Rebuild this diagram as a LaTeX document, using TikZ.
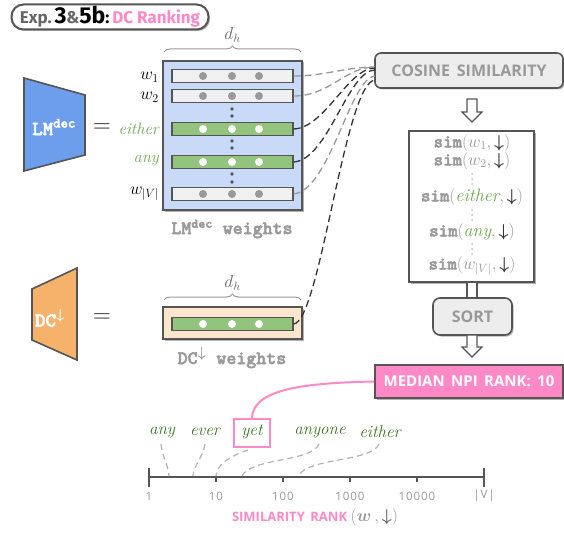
\documentclass[tikz,border=0pt]{standalone}
\usepackage{amsmath,amssymb}
\usepackage{fontspec}
\usetikzlibrary{shadows,decorations.pathreplacing,calc}
\newfontfamily\sansf{Open Sans}
\newfontfamily\titlef{Fira Sans}
\newfontfamily\monof{lmmonolt10-bold.otf}[FakeBold=2.5]
\definecolor{dk}{HTML}{555555}
\definecolor{dkline}{HTML}{333333}
\definecolor{tgray}{HTML}{999999}
\definecolor{mgray}{HTML}{666666}
\definecolor{pinkc}{HTML}{FF88C6}
\definecolor{lblue}{HTML}{C9DAF8}
\definecolor{mblue}{HTML}{6D9EEB}
\definecolor{orangec}{HTML}{F6B26B}
\definecolor{lorange}{HTML}{FCE5CD}
\definecolor{rowgray}{HTML}{F0F0F0}
\definecolor{rowgreen}{HTML}{93C47D}
\definecolor{dotgray}{HTML}{999999}
\definecolor{handgreen}{HTML}{6AA84F}
\definecolor{axgreen}{HTML}{38761D}
\newcommand{\hand}{\itshape}
\newcommand{\darr}{\boldsymbol{\downarrow}}
\tikzset{
  shad/.style={drop shadow={shadow xshift=1.5pt,shadow yshift=-1.5pt,opacity=0.3,fill=black}},
  rowbox/.style={draw=dk,line width=1.2pt,minimum width=121pt,minimum height=13pt,inner sep=0pt},
  grayrow/.style={rowbox,fill=rowgray},
  greenrow/.style={rowbox,fill=rowgreen},
  pill/.style={draw=dk,line width=1.6pt,rounded corners=6pt,fill=white!93!black,shad,inner sep=0pt},
  gtxt/.style={text=tgray,font=\sansf\bfseries\fontsize{16}{18}\selectfont},
  hollow/.style={draw=dk,line width=1.2pt,fill=white},
  gdash/.style={draw=tgray,line width=1.3pt,dash pattern=on 7pt off 4pt},
  ddash/.style={draw=dkline,line width=1.3pt,dash pattern=on 7pt off 4pt},
  wlab/.style={anchor=east,inner sep=0pt,font=\fontsize{17}{18}\selectfont},
  hlab/.style={wlab,text=handgreen,font=\hand\fontsize{16.5}{18}\selectfont},
  simtxt/.style={inner sep=0pt,text=tgray,font=\fontsize{18}{19}\selectfont},
  awtxt/.style={inner sep=0pt,text=axgreen,font=\hand\fontsize{17}{18}\selectfont},
  axdash/.style={draw=black!30,line width=1.2pt,dash pattern=on 6pt off 4pt},
  ticklab/.style={text=tgray,inner sep=0pt,font=\sansf\fontsize{11.5}{12}\selectfont\addfontfeatures{LetterSpace=8}},
  bracestyle/.style={draw=tgray,line width=1pt,decorate,decoration={brace,amplitude=6pt}},
}
\begin{document}
\begin{tikzpicture}[x=1pt,y=-1pt]
\useasboundingbox (0,0) rectangle (564,532);

% title
\node[draw=dk,line width=2pt,rounded corners=12pt,fill=white,shad,minimum width=197pt,minimum height=25pt,inner sep=0pt] (title) at (110,17)
 {\titlef\bfseries\fontsize{17}{18}\selectfont\color{mgray}Exp.\,{\color{black}\fontsize{23}{24}\selectfont 3}\&{\color{black}\fontsize{23}{24}\selectfont 5b}{\color{black}:}\,{\color{pinkc}DC Ranking}};

% LM dec trapezoid
\draw[draw=dk,line width=1.6pt,fill=mblue] (24,78) -- (85,95) -- (85,155) -- (24,171) -- cycle;
\node[text=white,font=\monof\fontsize{20}{21}\selectfont,inner sep=0pt] (lmlab) at (54,127) {LM$^{\text{\monof dec}}$};
\node[font=\fontsize{22}{22}\selectfont,text=dk] (eq1) at (102,127) {$\boldsymbol{=}$};

% LM weights box
\node[draw=dk,line width=1.6pt,fill=lblue,minimum width=139pt,minimum height=149pt,inner sep=0pt,shad] (lmw) at (232.5,135.5) {};
\draw[bracestyle] (164,52) -- (301,52);
\node[font=\fontsize{18}{18}\selectfont,text=mgray] (dh1) at (232.5,35) {$d_h$};

\node[grayrow] (r1) at (232.5,76) {};
\node[grayrow] (r2) at (232.5,96) {};
\node[greenrow] (r3) at (232.5,129) {};
\node[greenrow] (r4) at (232.5,162) {};
\node[grayrow] (r5) at (232.5,194) {};
\foreach \yy in {76,96,194}{\foreach \xx in {203,232,259}{\fill[dotgray] (\xx,\yy) circle (4pt);}}
\foreach \yy in {129,162}{\foreach \xx in {203,232,259}{\fill[white] (\xx,\yy) circle (4pt);}}
\foreach \yy in {109,116,141,148,174,182}{\fill[dk] (232,\yy) circle (1.8pt);}

\node[wlab] (l1) at (159,77) {$w_1$};
\node[wlab] (l2) at (159,97) {$w_2$};
\node[hlab] (l3) at (159,129) {either};
\node[hlab] (l4) at (159,161) {any};
\node[wlab] (l5) at (159,194) {$w_{|V|}$};
\node[text=tgray,font=\monof\fontsize{19}{20}\selectfont] (lmwlab) at (232,229) {LM$^{\text{\monof dec}}$ weights};

% DC trapezoid
\draw[draw=dk,line width=1.6pt,fill=orangec] (32,289) -- (77,268) -- (77,360) -- (32,340) -- cycle;
\node[text=white,font=\monof\fontsize{20}{21}\selectfont,inner sep=0pt] (dclab) at (50,318) {DC$^{\darr}$};
\node[font=\fontsize{22}{22}\selectfont,text=dk] (eq2) at (102,317) {$\boldsymbol{=}$};

% DC weights
\node[draw=dk,line width=1.6pt,fill=lorange,minimum width=139pt,minimum height=32pt,inner sep=0pt,shad] (dcw) at (232.5,323) {};
\draw[bracestyle] (164,300) -- (301,300);
\node[font=\fontsize{18}{18}\selectfont,text=mgray] (dh2) at (232.5,283) {$d_h$};
\node[greenrow] (r6) at (232.5,324) {};
\foreach \xx in {203,232,259}{\fill[white] (\xx,324) circle (4pt);}
\node[text=tgray,font=\monof\fontsize{19}{20}\selectfont] (dcwlab) at (232,358) {DC$^{\darr}$ weights};

% cosine similarity
\node[pill,minimum width=188pt,minimum height=35pt] (cos) at (469,70.5) {};
\node[gtxt] (costxt) at (cos.center) {COSINE\, SIMILARITY};

% connectors
\draw[gdash] (r1.east) .. controls (325,76) and (345,67) .. (375,67);
\draw[gdash] (r2.east) .. controls (330,96) and (345,67) .. (375,67);
\draw[ddash] (r3.east) .. controls (325,128) and (348,68) .. (375,68);
\draw[ddash] (r4.east) .. controls (328,160) and (348,70) .. (375,70);
\draw[gdash] (r5.east) .. controls (330,190) and (350,78) .. (375,76);
\draw[ddash] (r6.east) .. controls (320,322) and (345,82) .. (375,80);

% arrow 1
\draw[hollow] (467,99) -- (477,99) -- (477,112) -- (482,112) -- (472,122) -- (462,112) -- (467,112) -- cycle;

% sim box
\node[draw=dk,line width=1.6pt,fill=white,minimum width=125pt,minimum height=151pt,inner sep=0pt,shad] (sim) at (471.5,206.5) {};
\node[simtxt] (s1) at (472,143) {{\monof sim}$(w_1,{\color{dkline}\darr})$};
\node[simtxt] (s2) at (472,161) {{\monof sim}$(w_2,{\color{dkline}\darr})$};
\node[simtxt] (s3) at (472,197) {{\monof sim}$($\textcolor{handgreen}{\hand either}$,{\color{dkline}\darr})$};
\node[simtxt] (s4) at (472,232) {{\monof sim}$($\textcolor{handgreen}{\hand any}$,{\color{dkline}\darr})$};
\node[simtxt] (s5) at (472,266) {{\monof sim}$(w_{|V|},{\color{dkline}\darr})$};
\foreach \yy in {174,179,184,210,215,220,244,249,254}{\fill[black!25] (472,\yy) circle (1pt);}

% arrow 2 shaft + sort
\draw[hollow] (467,282) rectangle (477,300);
\node[pill,minimum width=79pt,minimum height=37pt,rounded corners=7pt] (sort) at (472.5,316.5) {};
\node[gtxt] (sorttxt) at (sort.center) {SORT};
\draw[hollow] (467,335) -- (477,335) -- (477,347) -- (482,347) -- (472,357) -- (462,347) -- (467,347) -- cycle;

% median
\node[draw=dk,line width=1.6pt,fill=pinkc,minimum width=188pt,minimum height=33pt,inner sep=0pt,shad,text=white,font=\sansf\bfseries\fontsize{15}{16}\selectfont] (med) at (469,381.5) {MEDIAN\, NPI\, RANK:\, 10};

% words
\node[awtxt] (wany) at (162,432) {any};
\node[awtxt] (wever) at (205,432) {ever};
\node[awtxt] (wyet) at (252,432) {yet};
\node[draw=pinkc,line width=2pt,minimum width=36pt,minimum height=28pt,inner sep=0pt] (yetbox) at (252,433) {};
\node[awtxt] (wanyone) at (320,432) {anyone};
\node[awtxt] (weither) at (380,432) {either};

\draw[pinkc,line width=2pt] (med.west) .. controls (300,383) and (253,390) .. (yetbox.north);

% axis
\coordinate (a1) at (149,477);
\coordinate (aV) at (484,477);
\draw[dk,line width=1.6pt] (a1) -- (aV);
\draw[dk,line width=1.6pt] (149,468) -- (149,487);
\draw[dk,line width=1.6pt] (484,468) -- (484,487);
\foreach \xx in {216,283,350,417}{\draw[dk,line width=1.4pt] (\xx,477) -- (\xx,482);}
\node[ticklab] (t1) at (149,496) {1};
\node[ticklab] (t2) at (216,496) {10};
\node[ticklab] (t3) at (283,496) {100};
\node[ticklab] (t4) at (350,496) {1000};
\node[ticklab] (t5) at (417,496) {10000};
\node[ticklab] (t6) at (484,496) {|V|};

\node[inner sep=0pt] (axlab) at (315,517) {{\sansf\bfseries\fontsize{13}{14}\selectfont\color{pinkc}SIMILARITY\, RANK}\,\,{\color{tgray}\fontsize{16}{17}\selectfont$(\boldsymbol{w}\,,{\color{mgray}\darr})$}};

% word connectors
\draw[axdash] (161,444) .. controls (162,456) and (168,464) .. (169,476);
\draw[axdash] (205,444) .. controls (203,458) and (194,464) .. (193,476);
\draw[axdash] (248,450) .. controls (225,458) and (217,466) .. (216,476);
\draw[axdash] (319,444) .. controls (312,462) and (250,458) .. (242,476);
\draw[axdash] (379,444) .. controls (372,462) and (305,458) .. (299,476);
\end{tikzpicture}
\end{document}
